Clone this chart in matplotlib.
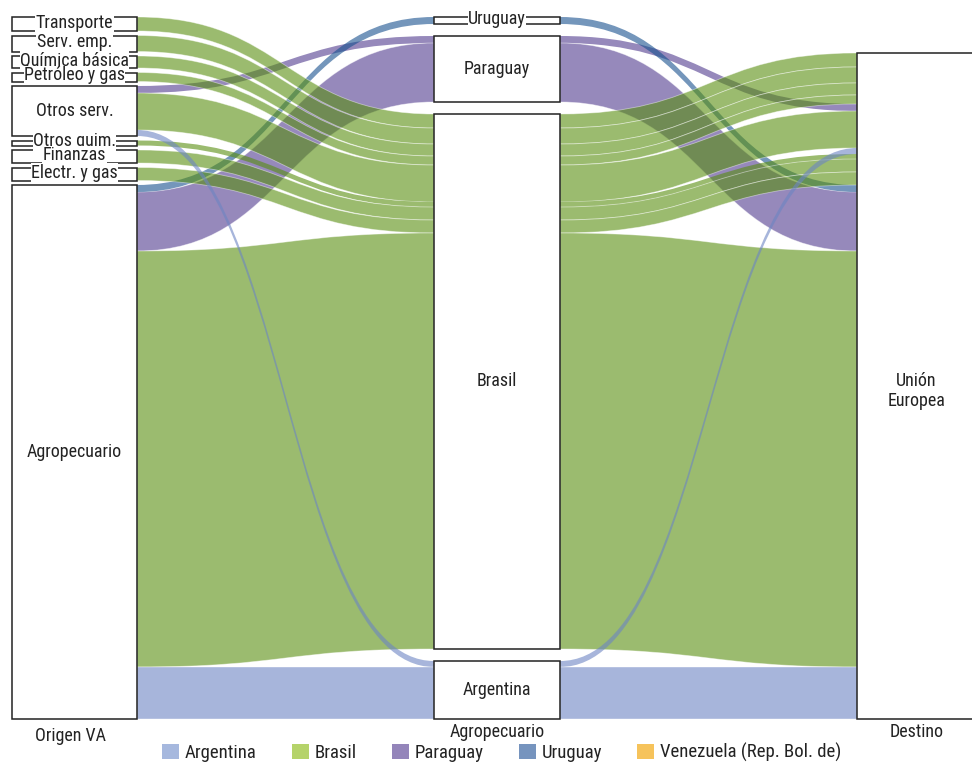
import os
import numpy as np
import matplotlib
matplotlib.use('Agg')
import matplotlib.pyplot as plt
from matplotlib.path import Path
from matplotlib.patches import PathPatch, Rectangle, Patch
from matplotlib import font_manager

# origin of value added (left column)
origins = ['Transporte', 'Serv. emp.', 'Química básica', 'Petróleo y gas', 'Otros serv.',
           'Otros quim.', 'Finanzas', 'Electr. y gas', 'Agropecuario']
# agro exporter (middle column)
countries = ['Uruguay', 'Paraguay', 'Brasil', 'Argentina']
# value by origin for each exporter
uruguay = [0, 0, 0, 0, 0, 0, 0, 0, 7]
paraguay = [0, 0, 0, 0, 7, 0, 0, 0, 59]
brasil = [14, 16, 12, 9, 37, 5, 13, 13, 416]
argentina = [0, 0, 0, 0, 6, 0, 0, 0, 52]
destination = 'Unión\nEuropea'
column_titles = ['Origen VA', 'Agropecuario', 'Destino']
legend_names = ['Argentina', 'Brasil', 'Paraguay', 'Uruguay', 'Venezuela (Rep. Bol. de)']

# visible colours of the ribbons are these drawn at alpha 0.6
ALPHA = 0.6
flow_colors = {'Uruguay': '#17508e', 'Paraguay': '#503a8e', 'Brasil': '#588e0f', 'Argentina': '#6c85c3'}
legend_colors = ['#a6b8de', '#b5d36a', '#9485ba', '#7694be', '#f6c35b']

TOP, BOTTOM = 17, 719
LEFT_X = (12, 137)
MID_X = (434, 560)
RIGHT_X = (857, 995)
LEFT_GAP = 4.5


def pick_font():
    # the chart uses a condensed sans; look for any narrow face that is installed
    wanted = ['liberationsansnarrow-regular', 'robotocondensed-regular', 'notosans-condensed',
              'dejavusanscondensed', 'opensans-condensedregular', 'opensans_condensed-regular',
              'notosans-semicondensed', 'roboto-regular', 'liberationsans-regular']
    files = [f.fname for f in font_manager.fontManager.ttflist]
    for w in wanted:
        for f in files:
            base = os.path.splitext(os.path.basename(f).lower())[0]
            if base == w:
                return font_manager.FontProperties(fname=f)
    return font_manager.FontProperties(family='DejaVu Sans')


FONT = pick_font()


def fp(size):
    p = FONT.copy()
    p.set_size(size)
    return p


def ribbon(ax, x0, x1, y0, y1, w, color, z):
    xm = (x0 + x1) / 2
    verts = [(x0, y0), (xm, y0), (xm, y1), (x1, y1),
             (x1, y1 + w), (xm, y1 + w), (xm, y0 + w), (x0, y0 + w), (x0, y0)]
    codes = [Path.MOVETO, Path.CURVE4, Path.CURVE4, Path.CURVE4,
             Path.LINETO, Path.CURVE4, Path.CURVE4, Path.CURVE4, Path.CLOSEPOLY]
    rgba = matplotlib.colors.to_rgba(color, ALPHA)
    # thin white edge only on wide ribbons, thin lines stay solid
    edge = (1, 1, 1, 0.45) if w > 8 else 'none'
    p = PathPatch(Path(verts, codes), facecolor=rgba, edgecolor=edge, lw=0.6, zorder=z)
    ax.add_patch(p)


def node(ax, x, y, h, label, small=False, fs=13):
    ax.add_patch(Rectangle((x[0], y), x[1] - x[0], h, facecolor='white', edgecolor='#222222',
                           lw=1.1, zorder=10))
    cx = (x[0] + x[1]) / 2
    if small:
        ax.text(cx, y + h / 2 - 1.5, label, ha='center', va='center', fontproperties=fp(fs),
                color='#222222', zorder=11, bbox=dict(facecolor='white', edgecolor='none', pad=0.3))
    else:
        ax.text(cx, y + h / 2, label, ha='center', va='center', fontproperties=fp(fs),
                color='#222222', zorder=11, linespacing=1.15)


def draw():
    flows = np.array([uruguay, paraguay, brasil, argentina], dtype=float).T
    n_orig, n_ctry = flows.shape
    total = flows.sum()
    scale = (BOTTOM - TOP - LEFT_GAP * (n_orig - 1)) / total
    flows = flows * scale
    orig_h = flows.sum(1)
    ctry_h = flows.sum(0)
    mid_gap = (BOTTOM - TOP - ctry_h.sum()) / (n_ctry - 1)

    left_top = TOP + np.concatenate([[0], np.cumsum(orig_h + LEFT_GAP)[:-1]])
    mid_top = TOP + np.concatenate([[0], np.cumsum(ctry_h + mid_gap)[:-1]])
    right_top = BOTTOM - flows.sum()

    # stacking positions of every (origin, country) path
    left_y = np.zeros_like(flows)
    mid_y = np.zeros_like(flows)
    right_y = np.zeros_like(flows)
    off = left_top.copy()
    r = right_top
    for i in range(n_orig):
        for j in range(n_ctry):
            left_y[i, j] = off[i]
            off[i] += flows[i, j]
            right_y[i, j] = r
            r += flows[i, j]
    off = mid_top.copy()
    for j in range(n_ctry):
        for i in range(n_orig):
            mid_y[i, j] = off[j]
            off[j] += flows[i, j]

    fig = plt.figure(figsize=(9.72, 7.63), dpi=100)
    ax = fig.add_axes([0, 0, 1, 1])
    ax.set_xlim(0, 972)
    ax.set_ylim(763, 0)
    ax.axis('off')

    draw_order = ['Paraguay', 'Uruguay', 'Brasil', 'Argentina']
    for z, c in enumerate(draw_order):
        j = countries.index(c)
        for i in range(n_orig):
            w = flows[i, j]
            if w <= 0:
                continue
            ribbon(ax, LEFT_X[1], MID_X[0], left_y[i, j], mid_y[i, j], w, flow_colors[c], z + 1)
            ribbon(ax, MID_X[1], RIGHT_X[0], mid_y[i, j], right_y[i, j], w, flow_colors[c], z + 1)

    for i, name in enumerate(origins):
        node(ax, LEFT_X, left_top[i], orig_h[i], name, small=orig_h[i] < 30)
    for j, name in enumerate(countries):
        node(ax, MID_X, mid_top[j], ctry_h[j], name, small=ctry_h[j] < 30)
    ax.add_patch(Rectangle((RIGHT_X[0], right_top), RIGHT_X[1] - RIGHT_X[0], BOTTOM - right_top,
                           facecolor='white', edgecolor='#222222', lw=1.1, zorder=10))
    ax.text((RIGHT_X[0] + 972) / 2 + 2, (right_top + BOTTOM) / 2 + 5, destination, ha='center',
            va='center', fontproperties=fp(13), color='#222222', zorder=11, linespacing=1.15)

    # column titles
    ax.text(sum(LEFT_X) / 2 - 4, 736, column_titles[0], ha='center', va='center', fontproperties=fp(13), color='#222222')
    ax.text(sum(MID_X) / 2, 732, column_titles[1], ha='center', va='center', fontproperties=fp(13), color='#222222')
    ax.text((RIGHT_X[0] + 972) / 2 + 2, 732, column_titles[2], ha='center', va='center', fontproperties=fp(13), color='#222222')

    handles = [Patch(facecolor=c, edgecolor='none') for c in legend_colors]
    fig.legend(handles, legend_names, loc='lower center', bbox_to_anchor=(0.516, -0.021), ncol=5,
               frameon=False, prop=fp(13.5), handlelength=0.9, handleheight=0.9, handletextpad=0.3,
               columnspacing=1.9, labelcolor='#222222')

    fig.savefig('out.png', dpi=100)


if __name__ == '__main__':
    draw()
